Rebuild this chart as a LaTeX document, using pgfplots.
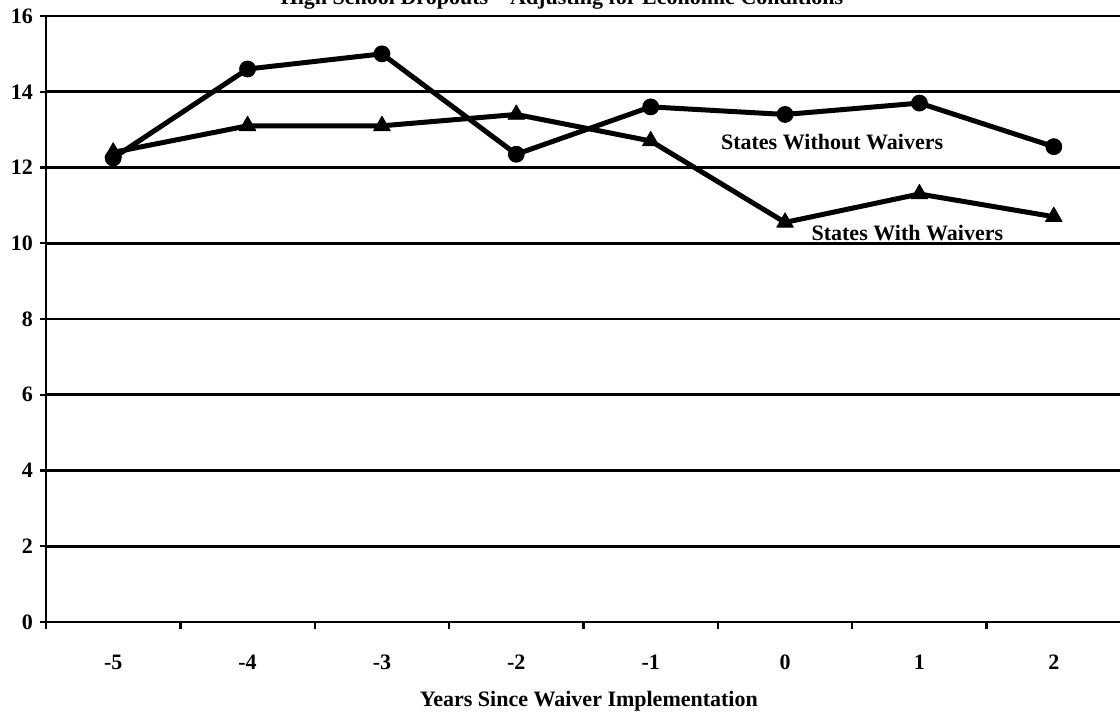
\documentclass[border=0pt]{standalone}
\usepackage{fontspec}
\setmainfont{Liberation Serif}
\usepackage{pgfplots}
\pgfplotsset{compat=1.18}
\newcommand{\lbl}{\fontsize{11}{13}\selectfont\bfseries}
\begin{document}
\begin{tikzpicture}
\begin{axis}[
    width=537.5pt, height=303pt, scale only axis,
    xmin=-0.5, xmax=7.5, ymin=0, ymax=16,
    clip=false,
    axis x line*=bottom, axis y line*=left,
    axis line style={line width=1.4pt,-},
    xtick={0,...,7},
    xticklabels={-5,-4,-3,-2,-1,0,1,2},
    minor xtick={-0.5,0.5,...,6.5},
    major x tick style={draw=none},
    minor tick length=3.5pt,
    major tick length=3pt,
    ytick={0,2,...,16},
    tick align=outside,
    tick style={line width=1.2pt,black},
    ymajorgrids,
    grid style={line width=1.4pt,black},
    tick label style={font=\lbl},
    /pgf/number format/assume math mode=true,
    xticklabel style={yshift=-10pt},
    every axis plot/.append style={line width=2.5pt, line join=round, black},
]
% states without waivers
\addplot[mark=*, mark size=4pt, mark options={line width=0.4pt, fill=black}]
    coordinates {(0,12.25) (1,14.6) (2,15.0) (3,12.35) (4,13.6) (5,13.4) (6,13.7) (7,12.55)};
% states with waivers
\addplot[mark=triangle*, mark size=4.8pt, mark options={line width=0.4pt, fill=black}]
    coordinates {(0,12.4) (1,13.1) (2,13.1) (3,13.4) (4,12.7) (5,10.55) (6,11.3) (7,10.7)};

\node[font=\lbl] at (axis cs:5.35,12.67) {States Without Waivers};
\node[font=\lbl] at (axis cs:5.91,10.27) {States With Waivers};
\node[font=\lbl, anchor=base, yshift=5.5pt] at (rel axis cs:0.48,1) {High School Dropouts -- Adjusting for Economic Conditions};
\node[font=\lbl, anchor=base, yshift=-42.5pt] at (rel axis cs:0.505,0) {Years Since Waiver Implementation};

\coordinate (sw) at (rel axis cs:0,0);
\coordinate (ne) at (rel axis cs:1,1);
\end{axis}
\pgfresetboundingbox
\path[use as bounding box] ([shift={(-23pt,-47pt)}]sw) rectangle ([shift={(-0.5pt,8pt)}]ne);
\end{tikzpicture}
\end{document}
